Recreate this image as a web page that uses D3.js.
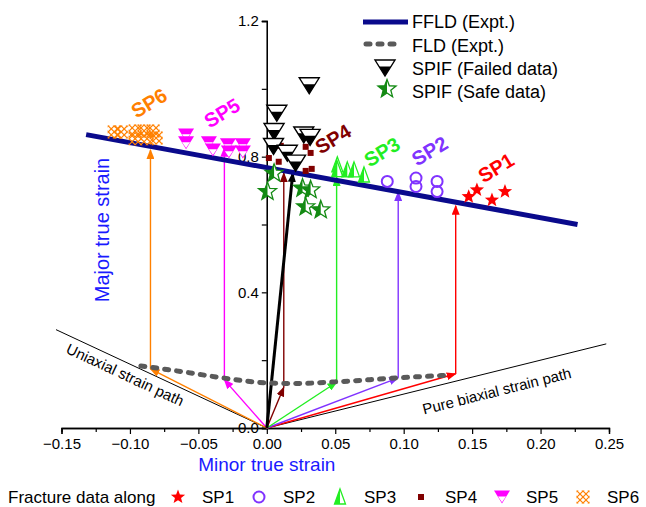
<!DOCTYPE html>
<html>
<head>
<meta charset="utf-8">
<script src="https://cdn.jsdelivr.net/npm/d3@7"></script>
<style>
body{margin:0;background:#fff}
text{font-family:"Liberation Sans",Arial,sans-serif}
</style>
</head>
<body>
<svg id="chart" width="646" height="507"></svg>
<script>
// ---- data ----
const xTickVals = [-0.15,-0.10,-0.05,0.00,0.05,0.10,0.15,0.20,0.25];
const yTickVals = [0.0,0.4,0.8,1.2];

const ffld = [[-0.132,0.865],[0.227,0.600]];
const fld = [[-0.092,0.183],[-0.06,0.165],[-0.031,0.147],[0,0.133],[0.02,0.131],[0.05,0.136],[0.096,0.148],[0.13,0.155]];
const uniaxial = [[0,0],[-0.154,0.29]];
const biaxial = [[0,0],[0.248,0.248]];
const blackPath = [[0,0],[0.019,0.752]];

const failed = [[0.031,1.009],[0.0073,0.928],[0.0053,0.874],[0.0049,0.830],[0.015,0.810],[0.027,0.864],[0.0316,0.857],[0.021,0.781]];
const safe = [[0.0053,0.751],[0.0005,0.697],[0.0261,0.707],[0.032,0.702],[0.0284,0.652],[0.0394,0.643]];

const sp1 = [[0.1535,0.702],[0.1475,0.682],[0.1645,0.672],[0.174,0.697]];
const sp2 = [[0.088,0.727],[0.109,0.737],[0.109,0.712],[0.1244,0.727],[0.1244,0.697]];
const sp3 = [[0.0515,0.776],[0.0515,0.762],[0.0588,0.761],[0.0637,0.761],[0.0710,0.746]];
const sp4 = [[0.0102,0.832],[0.0015,0.796],[0.0087,0.785],[0.0284,0.829],[0.032,0.811],[0.0284,0.758],[0.0328,0.764]];
const sp5 = [[-0.059,0.864],[-0.059,0.841],[-0.0423,0.841],[-0.0394,0.820],[-0.0284,0.835],[-0.0277,0.814],[-0.0175,0.835],[-0.0175,0.814]];
const sp6 = [[-0.1115,0.873],[-0.1064,0.873],[-0.0962,0.876],[-0.0897,0.876],[-0.0831,0.876],[-0.0962,0.853],[-0.0875,0.853],[-0.0809,0.855]];

// strain path: [minor at FLD, major at FLD, major at FFLD]
const spNames = ["SP1","SP2","SP3","SP4","SP5","SP6"];
const spColors = ["#ff0000","#8033ff","#22ee22","#800000","#ff00ff","#ff8000"];
const spPaths = [[0.138,0.160,0.655],[0.096,0.148,0.696],[0.051,0.135,0.740],[0.0124,0.120,0.752],[-0.031,0.142,0.826],[-0.085,0.174,0.820]];
const spLabelAt = [[0.1675,0.767],[0.119,0.817],[0.0842,0.814],[0.0484,0.852],[-0.0327,0.929],[-0.086,0.958]];

// ---- layout ----
const svg = d3.select("#chart");
const x = d3.scaleLinear().domain([-0.15,0.25]).range([61.5,609]);
const y = d3.scaleLinear().domain([0,1.2]).range([428,21]);
const line = d3.line().x(d=>x(d[0])).y(d=>y(d[1]));
const curve = d3.line().x(d=>x(d[0])).y(d=>y(d[1])).curve(d3.curveMonotoneX);

const defs = svg.append("defs");
defs.append("clipPath").attr("id","leftHalf")
    .append("rect").attr("x",-20).attr("y",-20).attr("width",20).attr("height",40);
defs.append("clipPath").attr("id","sq")
    .append("rect").attr("x",-6.5).attr("y",-6.5).attr("width",13).attr("height",13);

function arrowMarker(id,color){
    defs.append("marker").attr("id",id)
        .attr("markerUnits","userSpaceOnUse")
        .attr("markerWidth",10).attr("markerHeight",8)
        .attr("refX",9).attr("refY",4).attr("orient","auto")
        .append("path").attr("d","M0,0L10,4L0,8Z").attr("fill",color);
}
spColors.forEach((c,i)=>arrowMarker("ar"+i,c));
arrowMarker("arBlack","#000");

function starPts(R,r){
    let p=[];
    for(let k=0;k<10;k++){
        let a=-Math.PI/2+k*Math.PI/5, rr=k%2?r:R;
        p.push([rr*Math.cos(a),rr*Math.sin(a)]);
    }
    return "M"+p.map(d=>d.join(",")).join("L")+"Z";
}

// symbol painters, drawn centred at 0,0
const painters = {
    star(g,c){ g.append("path").attr("d",starPts(7.5,3.2)).attr("fill",c); },
    circle(g,c){ g.append("circle").attr("r",5.5).attr("fill","none").attr("stroke",c).attr("stroke-width",2); },
    halfTri(g,c){
        let d="M0,-8L5.5,7L-5.5,7Z";
        g.append("path").attr("d",d).attr("fill","#fff");
        g.append("path").attr("d",d).attr("fill",c).attr("clip-path","url(#leftHalf)");
        g.append("path").attr("d",d).attr("fill","none").attr("stroke",c).attr("stroke-width",1.3);
    },
    square(g,c){ g.append("rect").attr("x",-3).attr("y",-3).attr("width",6).attr("height",6).attr("fill",c); },
    invTri(g,c){
        g.append("path").attr("d","M-8,-6.5L8,-6.5L0,6.5Z").attr("fill",c);
        g.append("path").attr("d","M-4,-0.6L4,-0.6L0,5.2Z").attr("fill","#fff");
    },
    hatch(g,c){
        let h=g.append("g").attr("clip-path","url(#sq)");
        [-12,-6,0,6,12].forEach(o=>{
            h.append("line").attr("x1",o-9).attr("y1",-9).attr("x2",o+9).attr("y2",9).attr("stroke",c).attr("stroke-width",1.2);
            h.append("line").attr("x1",o-9).attr("y1",9).attr("x2",o+9).attr("y2",-9).attr("stroke",c).attr("stroke-width",1.2);
        });
    },
    failed(g){
        g.append("path").attr("d","M-10,-8L10,-8L0,8Z").attr("fill","#fff");
        g.append("path").attr("d","M-6,-1.6L6,-1.6L0,8Z").attr("fill","#000");
        g.append("path").attr("d","M-10,-8L10,-8L0,8Z").attr("fill","none").attr("stroke","#000").attr("stroke-width",1.4);
    },
    safe(g){
        let d=starPts(9.5,4);
        g.append("path").attr("d",d).attr("fill","#fff");
        g.append("path").attr("d",d).attr("fill","#138a13").attr("clip-path","url(#leftHalf)");
        g.append("path").attr("d",d).attr("fill","none").attr("stroke","#138a13").attr("stroke-width",1.3);
    }
};
const spSymbols = ["star","circle","halfTri","square","invTri","hatch"];
const spData = [sp1,sp2,sp3,sp4,sp5,sp6];

function plotPoints(data,type,color){
    svg.append("g").selectAll("g").data(data).enter().append("g")
        .attr("transform",d=>`translate(${x(d[0])},${y(d[1])})`)
        .each(function(){ painters[type](d3.select(this),color); });
}

// ---- axes ----
svg.append("g").attr("transform",`translate(0,${y(0)})`)
    .call(d3.axisBottom(x).tickValues(xTickVals).tickFormat(d3.format(".2f")).tickSize(6).tickPadding(4));
svg.append("g").attr("transform",`translate(0,${y(0)})`)
    .call(d3.axisBottom(x).tickValues(d3.range(-0.125,0.25,0.05)).tickFormat("").tickSize(4));
svg.append("g").attr("transform",`translate(${x(0)},0)`)
    .call(d3.axisLeft(y).tickValues(yTickVals).tickFormat(d3.format(".1f")).tickSize(5).tickPadding(3));
svg.append("g").attr("transform",`translate(${x(0)},0)`)
    .call(d3.axisLeft(y).tickValues([0.2,0.6,1.0]).tickFormat("").tickSize(5));
svg.selectAll(".domain").attr("stroke","#000").attr("stroke-width",1.3);
svg.selectAll(".tick line").attr("stroke","#000").attr("stroke-width",1.2);
svg.selectAll(".tick text").attr("font-size",15).attr("fill","#000").attr("font-family","Liberation Sans, Arial, sans-serif");

// ---- strain paths ----
svg.append("path").attr("d",line(uniaxial)).attr("stroke","#000").attr("stroke-width",1).attr("fill","none");
svg.append("path").attr("d",line(biaxial)).attr("stroke","#000").attr("stroke-width",1).attr("fill","none");

spPaths.forEach((p,i)=>{
    svg.append("path").attr("d",line([[0,0],[p[0],p[1]]]))
        .attr("stroke",spColors[i]).attr("stroke-width",1.4).attr("fill","none")
        .attr("marker-end",`url(#ar${i})`);
    svg.append("path").attr("d",line([[p[0],p[1]],[p[0],p[2]]]))
        .attr("stroke",spColors[i]).attr("stroke-width",1.4).attr("fill","none")
        .attr("marker-end",`url(#ar${i})`);
});
svg.append("path").attr("d",line(blackPath)).attr("stroke","#000").attr("stroke-width",3)
    .attr("fill","none").attr("marker-end","url(#arBlack)");

// ---- limit curves ----
svg.append("path").attr("d",curve(fld)).attr("stroke","#5a5a5a").attr("stroke-width",5)
    .attr("stroke-dasharray","4,8").attr("stroke-linecap","round").attr("fill","none");
svg.append("path").attr("d",line(ffld)).attr("stroke","#0a0a8c").attr("stroke-width",5).attr("fill","none");

// ---- points ----
spData.forEach((d,i)=>plotPoints(d,spSymbols[i],spColors[i]));
plotPoints(safe,"safe");
plotPoints(failed,"failed");

// ---- annotations ----
spLabelAt.forEach((p,i)=>{
    svg.append("text").attr("transform",`translate(${x(p[0])},${y(p[1])}) rotate(-31)`)
        .attr("text-anchor","middle").attr("dy","0.35em")
        .attr("font-size",20).attr("font-weight","bold").attr("fill",spColors[i]).text(spNames[i]);
});
svg.append("text").attr("transform",`translate(${x(-0.1035)},${y(0.157)}) rotate(25)`)
    .attr("text-anchor","middle").attr("dy","0.35em").attr("font-size",15).text("Uniaxial strain path");
svg.append("text").attr("transform",`translate(${x(0.168)},${y(0.109)}) rotate(-14)`)
    .attr("text-anchor","middle").attr("dy","0.35em").attr("font-size",15).text("Pure biaxial strain path");

svg.append("text").attr("transform","translate(109,230) rotate(-90)")
    .attr("text-anchor","middle").attr("font-size",20).attr("fill","#1a1aff").text("Major true strain");
svg.append("text").attr("x",x(0)).attr("y",471).attr("text-anchor","middle")
    .attr("font-size",19).attr("fill","#1a1aff").text("Minor true strain");

// ---- top legend ----
const lg = svg.append("g");
lg.append("line").attr("x1",363).attr("x2",408).attr("y1",22).attr("y2",22).attr("stroke","#0a0a8c").attr("stroke-width",5);
lg.append("line").attr("x1",366).attr("x2",402).attr("y1",44).attr("y2",44).attr("stroke","#5a5a5a").attr("stroke-width",5)
    .attr("stroke-dasharray","4,8").attr("stroke-linecap","round");
painters.failed(lg.append("g").attr("transform","translate(385,68)"));
painters.safe(lg.append("g").attr("transform","translate(387,89)"));
["FFLD (Expt.)","FLD (Expt.)","SPIF (Failed data)","SPIF (Safe data)"].forEach((t,i)=>{
    lg.append("text").attr("x",412).attr("y",22+i*23.3).attr("dy","0.35em").attr("font-size",18).text(t);
});

// ---- bottom legend ----
const bl = svg.append("g");
bl.append("text").attr("x",8).attr("y",497).attr("dy","0.35em").attr("font-size",17).text("Fracture data along");
const blSym = [178,259,340,421,502,583];
spNames.forEach((n,i)=>{
    painters[spSymbols[i]](bl.append("g").attr("transform",`translate(${blSym[i]},497)`),spColors[i]);
    bl.append("text").attr("x",blSym[i]+24).attr("y",497).attr("dy","0.35em").attr("font-size",17).text(n);
});
</script>
</body>
</html>
